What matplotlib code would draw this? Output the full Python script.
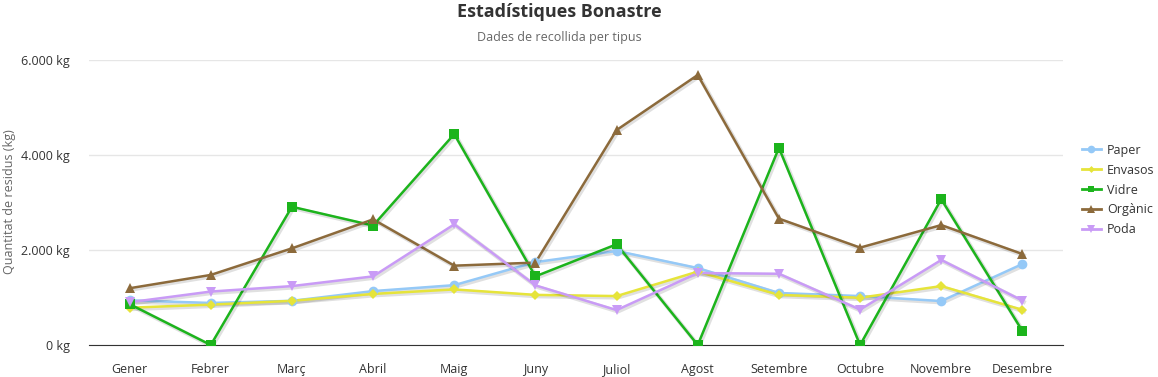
# Recollida selectiva Bonastre, line chart per tipus.
import matplotlib
matplotlib.use('agg')
import matplotlib.pyplot as plt
import matplotlib.patheffects as pe
from matplotlib.lines import Line2D
from matplotlib.ticker import FuncFormatter

plt.rcParams['font.family'] = ['Open Sans', 'DejaVu Sans']

# Data
mesos = ['Gener', 'Febrer', 'Març', 'Abril', 'Maig', 'Juny', 'Juliol',
         'Agost', 'Setembre', 'Octubre', 'Novembre', 'Desembre']
paper = [940, 885, 930, 1135, 1260, 1745, 1980, 1620, 1095, 1030, 925, 1705]
envasos = [785, 850, 930, 1075, 1170, 1055, 1030, 1545, 1055, 995, 1240, 740]
vidre = [860, 0, 2910, 2515, 4440, 1445, 2120, 0, 4150, 0, 3070, 295]
organic = [1195, 1475, 2035, 2645, 1670, 1735, 4525, 5685, 2660, 2050, 2525, 1915]
poda = [900, 1125, 1240, 1445, 2540, 1255, 735, 1515, 1500, 745, 1790, 935]

series = [
    ('Paper', paper, '#95c9f7', 'o', 7),
    ('Envasos', envasos, '#e6e43a', 'D', 5),
    ('Vidre', vidre, '#1cb41c', 's', 6.5),
    ('Orgànic', organic, '#8c6a3b', '^', 7.5),
    ('Poda', poda, '#c99bf6', 'v', 7.5),
]

fig = plt.figure(figsize=(11.58, 3.77), dpi=100)
ax = fig.add_axes([89/1158, 1 - 345/377, (1063 - 89)/1158, (345 - 60)/377])

shadow = [pe.SimpleLineShadow(offset=(1, -1), shadow_color='black', alpha=0.12, linewidth=3), pe.Normal()]

x = list(range(len(mesos)))
handles = []
for name, vals, col, mk, ms in series:
    ax.plot(x, vals, color=col, linewidth=1.8, path_effects=shadow, zorder=3)
    ax.plot(x, vals, linestyle='none', marker=mk, markersize=ms, color=col,
            markeredgewidth=0, zorder=4)
    handles.append(Line2D([], [], color=col, linewidth=2, marker=mk,
                          markersize=ms - 1.5, markeredgewidth=0, label=name))

ax.set_xlim(-0.5, len(mesos) - 0.5)
ax.set_ylim(0, 6000)
ax.set_yticks([0, 2000, 4000, 6000])
ax.yaxis.set_major_formatter(FuncFormatter(lambda v, p: '{:,.0f} kg'.format(v).replace(',', '.')))
ax.set_xticks(x)
ax.set_xticklabels(mesos)
ax.grid(axis='y', color='#e6e6e6', linewidth=1)
ax.set_axisbelow(True)
for s in ['top', 'right', 'left']:
    ax.spines[s].set_visible(False)
ax.spines['bottom'].set_color('#333333')
ax.tick_params(axis='both', length=0, labelsize=9, colors='#333333')
ax.tick_params(axis='x', pad=13)
ax.tick_params(axis='y', pad=14)
fig.text(10/1158, 1 - 202/377, 'Quantitat de residus (kg)', rotation=90, ha='center', va='center',
         fontsize=9, color='#666666')

fig.text(559/1158, 1 - 12/377, 'Estadístiques Bonastre', ha='center', va='center',
         fontsize=13, fontweight='bold', color='#333333')
fig.text(559/1158, 1 - 37/377, 'Dades de recollida per tipus', ha='center', va='center',
         fontsize=9, color='#666666')

leg = ax.legend(handles=handles, loc='center left', bbox_to_anchor=(1082/1158, 1 - 190/377),
                bbox_transform=fig.transFigure, frameon=False, fontsize=9, handlelength=1.5,
                handletextpad=0.5, labelspacing=0.55, borderaxespad=0, borderpad=0)
for t in leg.get_texts():
    t.set_color('#333333')

plt.savefig('out.png', dpi=100)
